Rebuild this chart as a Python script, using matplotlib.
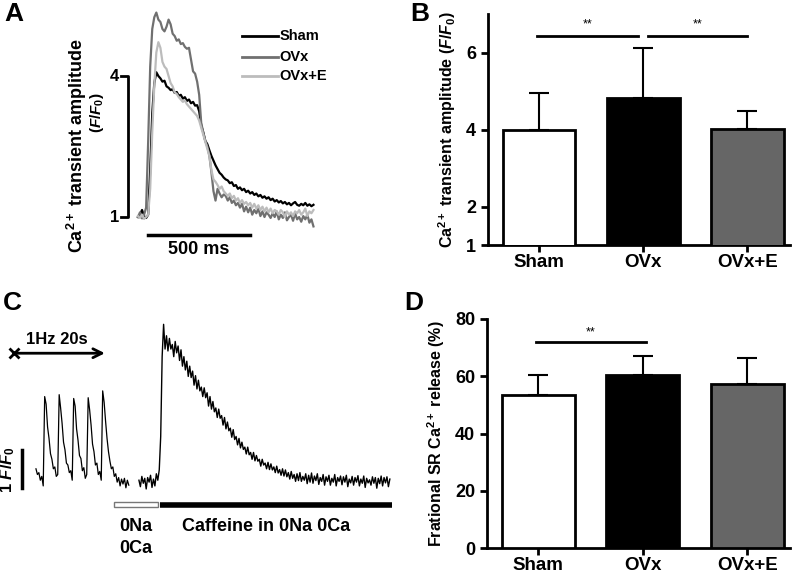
import numpy as np
import matplotlib.pyplot as plt
from matplotlib.patches import Rectangle

plt.rcParams['font.family'] = 'Liberation Sans'
plt.rcParams['font.weight'] = 'bold'
plt.rcParams['mathtext.fontset'] = 'custom'
plt.rcParams['mathtext.rm'] = 'Liberation Sans:bold'
plt.rcParams['mathtext.it'] = 'Liberation Sans:italic:bold'
plt.rcParams['mathtext.bf'] = 'Liberation Sans:bold'

# bar charts (B, D)
groups = ['Sham', 'OVx', 'OVx+E']
bar_colors = ['white', 'black', '#666666']
amp_mean = [4.0, 4.83, 4.02]
amp_err = [0.94, 1.28, 0.47]
frac_mean = [53.5, 60.5, 57.2]
frac_err = [7.0, 6.7, 9.1]

# panel A: averaged transients, one value every 10 ms (F/F0)
sham_trace = [1.00, 1.05, 1.15, 1.02, 0.98, 1.05, 2.0, 3.2, 3.85, 4.08,
              4.0, 3.95, 3.88, 3.9, 3.78, 3.75, 3.7, 3.72, 3.64, 3.66,
              3.58, 3.6, 3.52, 3.55, 3.47, 3.5, 3.42, 3.45, 3.37, 3.38,
              3.25, 2.95, 2.8, 2.62, 2.55, 2.42, 2.3, 2.2, 2.1, 2.02,
              1.94, 1.9, 1.84, 1.8, 1.78, 1.72, 1.74, 1.66, 1.68, 1.6,
              1.63, 1.57, 1.6, 1.53, 1.56, 1.5, 1.53, 1.47, 1.5, 1.44,
              1.47, 1.41, 1.44, 1.39, 1.42, 1.36, 1.39, 1.33, 1.36, 1.31,
              1.34, 1.29, 1.32, 1.27, 1.3, 1.25, 1.29, 1.32, 1.26, 1.24,
              1.28, 1.25, 1.3, 1.24, 1.27, 1.23, 1.26]
ovx_trace = [1.0, 1.1, 0.97, 1.05, 1.2, 2.6, 4.2, 5.0, 5.25, 5.35,
             5.2, 5.15, 5.0, 4.95, 5.05, 5.2, 5.1, 4.9, 4.85, 4.75,
             4.78, 4.68, 4.7, 4.62, 4.58, 4.6, 4.35, 4.1, 4.05, 3.88,
             3.6, 3.0, 2.8, 2.62, 2.5, 2.3, 1.95, 1.55, 1.35, 1.6,
             1.5, 1.42, 1.48, 1.45, 1.35, 1.42, 1.3, 1.35, 1.25, 1.3,
             1.2, 1.28, 1.12, 1.22, 1.1, 1.2, 1.05, 1.15, 1.08, 1.18,
             1.02, 1.12, 1.0, 1.1, 1.05, 0.98, 1.08, 1.0, 1.12, 0.95,
             1.05, 0.98, 1.1, 0.93, 1.0, 1.05, 0.92, 1.08, 0.95, 1.0,
             0.9, 1.02, 0.95, 1.05, 0.88, 0.95, 0.8]
ovxe_trace = [1.02, 0.98, 1.05, 0.96, 1.0, 1.05, 1.6, 2.8, 3.8, 4.5,
              4.72, 4.6, 4.3, 4.2, 4.15, 4.0, 3.85, 3.78, 3.65, 3.62,
              3.55, 3.5, 3.45, 3.48, 3.4, 3.35, 3.3, 3.25, 3.2, 3.15,
              3.05, 2.9, 2.75, 2.6, 2.45, 2.3, 2.0, 1.8, 1.75, 1.68,
              1.6, 1.65, 1.55, 1.5, 1.45, 1.5, 1.4, 1.45, 1.35, 1.4,
              1.3, 1.36, 1.28, 1.32, 1.25, 1.3, 1.2, 1.28, 1.18, 1.25,
              1.15, 1.22, 1.12, 1.2, 1.1, 1.18, 1.08, 1.15, 1.12, 1.05,
              1.15, 1.1, 1.0, 1.12, 1.05, 1.1, 1.02, 1.12, 1.08, 1.15,
              1.05, 1.1, 1.18, 1.02, 1.12, 1.08, 1.15]
trace_names = ['Sham', 'OVx', 'OVx+E']
trace_colors = ['black', '#707070', '#bcbcbc']

# panel C: raw trace, one value every 0.1 s (F/F0)
stim_trace = [1.35, 1.2, 1.25, 1.05, 1.15, 0.9, 3.25, 3.05, 2.45, 2.15,
              1.75, 1.6, 1.35, 1.4, 1.15, 1.2, 3.3, 2.95, 2.55, 2.05,
              1.85, 1.5, 1.45, 1.25, 1.3, 1.05, 3.2, 3.0, 2.4, 2.1,
              1.7, 1.62, 1.3, 1.38, 1.1, 1.2, 3.22, 2.9, 2.5, 2.0,
              1.8, 1.45, 1.5, 1.2, 1.28, 1.05, 3.4, 3.1, 2.6, 2.15,
              1.8, 1.55, 1.35, 1.4, 1.15, 1.22, 1.0, 1.12, 0.9, 1.08,
              0.95, 1.1, 0.85, 1.05, 0.92]
caff_trace = [1.05, 0.88, 1.15, 0.97, 1.1, 0.82, 1.12, 1.0, 1.18, 0.86,
              1.08, 0.9, 1.22, 1.05, 1.32, 2.2, 4.3, 5.15, 4.5, 4.85,
              4.45, 4.78, 4.5, 4.62, 4.3, 4.7, 4.4, 4.58, 4.2, 4.48,
              4.05, 4.3, 3.95, 4.18, 3.78, 4.05, 3.75, 3.92, 3.55, 3.8,
              3.45, 3.68, 3.4, 3.5, 3.25, 3.48, 3.22, 3.35, 3.0, 3.25,
              2.92, 3.12, 2.85, 2.95, 2.7, 2.92, 2.68, 2.75, 2.5, 2.7,
              2.4, 2.58, 2.35, 2.42, 2.18, 2.38, 2.12, 2.2, 1.98, 2.15,
              1.9, 2.05, 1.86, 1.92, 1.74, 1.92, 1.72, 1.78, 1.6, 1.78,
              1.56, 1.7, 1.55, 1.6, 1.42, 1.6, 1.45, 1.5, 1.35, 1.52,
              1.33, 1.48, 1.32, 1.4, 1.25, 1.42, 1.24, 1.33, 1.18, 1.35,
              1.16, 1.32, 1.14, 1.25, 1.08, 1.28, 1.1, 1.2, 1.02, 1.22,
              1.04, 1.25, 1.02, 1.15, 1.05, 1.22, 0.96, 1.18, 1.0, 1.24,
              0.97, 1.16, 1.04, 1.22, 0.94, 1.12, 1.02, 1.2, 0.92, 1.14,
              1.02, 1.18, 0.92, 1.1, 1.0, 1.2, 0.9, 1.12, 1.02, 1.16,
              0.93, 1.14, 1.0, 1.18, 0.88, 1.08, 0.98, 1.15, 0.92, 1.12,
              1.0, 1.17, 0.9, 1.08, 0.97, 1.16, 0.86, 1.1, 0.98, 1.06,
              0.92, 1.14, 0.97, 1.12, 0.84, 1.1, 0.96, 1.16, 0.9, 1.12,
              0.98, 1.14, 0.88, 1.08]

fig = plt.figure(figsize=(8, 5.73), dpi=100)


def bar_panel(ax, means, errs, ylim, yticks, ylabel):
    x = np.arange(len(groups))
    ax.bar(x, means, width=0.7, color=bar_colors, edgecolor='black',
           linewidth=2, zorder=3,
           yerr=[[0] * len(errs), errs], capsize=7,
           error_kw=dict(elinewidth=1.5, capthick=1.5, zorder=2))
    ax.set_xlim(-0.49, 2.41)
    ax.set_ylim(*ylim)
    ax.set_yticks(yticks)
    ax.set_xticks(x)
    ax.set_xticklabels(groups, fontsize=13.5, fontweight='bold')
    ax.tick_params(axis='y', labelsize=13, width=2, length=5)
    ax.tick_params(axis='x', width=2, length=5, pad=1.5)
    for lab in ax.get_yticklabels():
        lab.set_fontweight('bold')
    for s in ['top', 'right']:
        ax.spines[s].set_visible(False)
    for s in ['left', 'bottom']:
        ax.spines[s].set_linewidth(2)
    ax.set_ylabel(ylabel, fontsize=11.5, fontweight='bold', labelpad=6)


# ---- panel A ----
ax_a = fig.add_axes([0.15, 0.5462, 0.2625, 0.445])
for tr, name, col in zip([sham_trace, ovx_trace, ovxe_trace], trace_names, trace_colors):
    ax_a.plot(10 * np.arange(len(tr)), tr, color=col, lw=1.6)
ax_a.set_xlim(-88, 941)
ax_a.set_ylim(0.085, 5.51)
ax_a.axis('off')
# scale bars
ax_a.plot([-83, -49, -49, -83], [4, 4, 1, 1], color='black', lw=2, clip_on=False)
ax_a.text(-115, 4, '4', ha='center', va='center', fontsize=12)
ax_a.text(-115, 1, '1', ha='center', va='center', fontsize=12)
ax_a.plot([49, 549], [0.617, 0.617], color='black', lw=2.5)
ax_a.text(299, 0.30, '500 ms', ha='center', va='center', fontsize=13)
# legend
for name, col, yy in zip(trace_names, trace_colors, [4.85, 4.40, 4.0]):
    ax_a.plot([510, 686], [yy, yy], color=col, lw=2)
    ax_a.text(695, yy, name, ha='left', va='center', fontsize=10.5)
fig.text(77 / 800, 1 - 146 / 573, 'Ca$^{2+}$ transient amplitude', rotation=90,
         ha='center', va='center', fontsize=13)
fig.text(97 / 800, 1 - 113 / 573, '($F$/$F_0$)', rotation=90,
         ha='center', va='center', fontsize=11)

# ---- panel B ----
ax_b = fig.add_axes([0.61, 0.5724, 0.3775, 0.403])
bar_panel(ax_b, amp_mean, amp_err, (1, 7), [1, 2, 4, 6],
          'Ca$^{2+}$ transient amplitude ($F$/$F_0$)')
ax_b.plot([-0.02, 0.95], [6.44, 6.44], color='black', lw=2)
ax_b.plot([1.05, 2.0], [6.44, 6.44], color='black', lw=2)
ax_b.text(0.47, 6.58, '**', ha='center', va='bottom', fontsize=9, fontweight='normal')
ax_b.text(1.52, 6.58, '**', ha='center', va='bottom', fontsize=9, fontweight='normal')

# ---- panel C ----
ax_c = fig.add_axes([0.0, 1 - 565 / 573, 0.5, 265 / 573])
t_stim = 0.1 * np.arange(len(stim_trace))
t_caff = 7.1 + 0.1 * np.arange(len(caff_trace))
ax_c.plot(t_stim, stim_trace, color='black', lw=0.9)
ax_c.plot(t_caff, caff_trace, color='black', lw=1.0)
ax_c.set_xlim(-2.48, 25.1)
ax_c.set_ylim(-1.18, 5.79)
ax_c.axis('off')
ax_c.annotate('', xy=(4.75, 4.39), xytext=(-1.52, 4.39),
              arrowprops=dict(arrowstyle='->', lw=2, color='black',
                              shrinkA=0, shrinkB=0, mutation_scale=16))
ax_c.plot([-1.52], [4.39], marker='x', color='black', ms=7, mew=2)
ax_c.text(1.45, 4.74, '1Hz 20s', ha='center', va='center', fontsize=12)
ax_c.plot([-0.97, -0.97], [0.84, 1.84], color='black', lw=2.5)
ax_c.text(-1.93, 1.32, '1 $F$/$F_0$', rotation=90, ha='center', va='center', fontsize=12)
ax_c.add_patch(Rectangle((5.38, 0.334), 3.03, 0.148, facecolor='white',
                         edgecolor='#777777', lw=1))
ax_c.plot([8.55, 24.55], [0.395, 0.395], color='black', lw=4, solid_capstyle='butt')
ax_c.text(6.9, -0.18, '0Na', ha='center', va='center', fontsize=13)
ax_c.text(6.9, -0.74, '0Ca', ha='center', va='center', fontsize=13)
ax_c.text(15.9, -0.18, 'Caffeine in 0Na 0Ca', ha='center', va='center', fontsize=13)

# ---- panel D ----
ax_d = fig.add_axes([0.6088, 0.0436, 0.3788, 0.3997])
bar_panel(ax_d, frac_mean, frac_err, (0, 80), [0, 20, 40, 60, 80],
          'Frational SR Ca$^{2+}$ release (%)')
ax_d.plot([-0.02, 1.03], [72.1, 72.1], color='black', lw=2)
ax_d.text(0.5, 73.2, '**', ha='center', va='bottom', fontsize=9, fontweight='normal')

# panel letters
for lab, x, y in [('A', 0.005, 0.997), ('B', 0.513, 0.997),
                  ('C', 0.003, 0.492), ('D', 0.505, 0.492)]:
    fig.text(x, y, lab, ha='left', va='top', fontsize=19, fontweight='bold')

fig.savefig('out.png', dpi=100)
